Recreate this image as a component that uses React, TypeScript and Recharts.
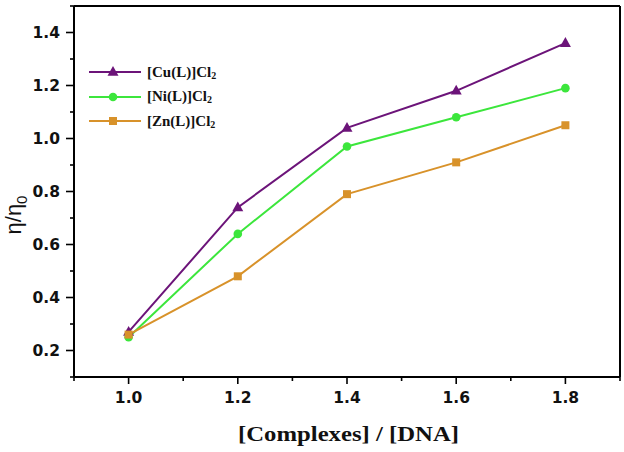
import React from "react"
import { LineChart, Line, XAxis, YAxis, ReferenceLine, Legend } from "recharts"

// ratio values on the x axis
const ratios = [1.0, 1.2, 1.4, 1.6, 1.8]

// relative viscosity for each complex
const cuValues = [0.27, 0.74, 1.04, 1.18, 1.36]
const niValues = [0.25, 0.64, 0.97, 1.08, 1.19]
const znValues = [0.26, 0.48, 0.79, 0.91, 1.05]

const xTicks = [0.9, 1.0, 1.1, 1.2, 1.3, 1.4, 1.5, 1.6, 1.7, 1.8, 1.9]
const yTicks = [0.1, 0.2, 0.3, 0.4, 0.5, 0.6, 0.7, 0.8, 0.9, 1.0, 1.1, 1.2, 1.3, 1.4, 1.5]

const seriesNames = ["[Cu(L)]Cl", "[Ni(L)]Cl", "[Zn(L)]Cl"]
const seriesKeys = ["cu", "ni", "zn"]
const seriesColors = ["#6c1479", "#3ce63c", "#d8922a"]
const seriesShapes = ["triangle", "circle", "square"]

const data = ratios.map((r, i) => ({
    ratio: r,
    cu: cuValues[i],
    ni: niValues[i],
    zn: znValues[i],
}))

const isMajor = (v: number) => Math.round(v * 10) % 2 === 0

const tickFont = { fontFamily: "'DejaVu Sans', sans-serif", fontWeight: 700, fontSize: 15.5 }
const serif = "'Liberation Serif', 'Times New Roman', serif"

function XTick({ x, y, payload }: any) {
    const major = isMajor(payload.value)
    return (
        <g>
            <line x1={x} x2={x} y1={y} y2={y + (major ? 7 : 4)} stroke="#000" strokeWidth={1.6} />
            {major && (
                <text x={x} y={y + 26} textAnchor="middle" fill="#111" {...tickFont}>
                    {payload.value.toFixed(1)}
                </text>
            )}
        </g>
    )
}

function YTick({ x, y, payload }: any) {
    const major = isMajor(payload.value)
    return (
        <g>
            <line x1={x} x2={x - (major ? 8 : 4)} y1={y} y2={y} stroke="#000" strokeWidth={1.6} />
            {major && (
                <text x={x - 14} y={y + 5.5} textAnchor="end" fill="#111" {...tickFont}>
                    {payload.value.toFixed(1)}
                </text>
            )}
        </g>
    )
}

function Marker({ shape, cx, cy, color }: any) {
    if (shape === "triangle") {
        return <polygon points={`${cx},${cy - 6} ${cx - 5.5},${cy + 3.8} ${cx + 5.5},${cy + 3.8}`} fill={color} />
    }
    if (shape === "square") {
        return <rect x={cx - 4} y={cy - 4} width={8} height={8} fill={color} />
    }
    return <circle cx={cx} cy={cy} r={4.3} fill={color} />
}

function LegendBox() {
    return (
        <div>
            {seriesNames.map((name, i) => (
                <div key={name} style={{ display: "flex", alignItems: "center", height: 24.5 }}>
                    <svg width={59} height={16}>
                        <line x1={1} x2={53} y1={8} y2={8} stroke={seriesColors[i]} strokeWidth={2} />
                        <Marker shape={seriesShapes[i]} cx={25} cy={8} color={seriesColors[i]} />
                    </svg>
                    <span style={{ fontFamily: serif, fontWeight: 700, fontSize: 15, color: "#111" }}>
                        {name}
                        <sub style={{ fontSize: 10, verticalAlign: "-2px" }}>2</sub>
                    </span>
                </div>
            ))}
        </div>
    )
}

function XTitle() {
    return (
        <text
            x={348.5}
            y={441}
            textAnchor="middle"
            fontFamily={serif}
            fontWeight={700}
            fontSize={22}
            textLength={221}
            lengthAdjust="spacingAndGlyphs"
            fill="#111"
        >
            [Complexes] / [DNA]
        </text>
    )
}

function YTitle() {
    return (
        <text
            transform="translate(21, 215) rotate(-90)"
            textAnchor="middle"
            fontFamily="'Liberation Sans', Arial, sans-serif"
            fontSize={22}
            fill="#111"
        >
            η/η<tspan fontSize={15} dy={6}>0</tspan>
        </text>
    )
}

export default function App() {
    return (
        <div style={{ position: "absolute", left: 0, top: 0, width: 624, height: 452, background: "#fff" }}>
            <LineChart width={624} height={452} data={data} margin={{ top: 6, right: 4, bottom: 0, left: 0 }}>
                <XAxis
                    dataKey="ratio"
                    type="number"
                    domain={[0.9, 1.9]}
                    ticks={xTicks}
                    interval={0}
                    height={75}
                    tickSize={0}
                    tickMargin={0}
                    tickLine={false}
                    tick={<XTick />}
                    axisLine={{ stroke: "#000", strokeWidth: 2 }}
                    label={{ content: <XTitle /> }}
                />
                <YAxis
                    type="number"
                    domain={[0.1, 1.5]}
                    ticks={yTicks}
                    interval={0}
                    width={74}
                    tickSize={0}
                    tickMargin={0}
                    tickLine={false}
                    tick={<YTick />}
                    axisLine={{ stroke: "#000", strokeWidth: 2 }}
                    label={{ content: <YTitle /> }}
                />
                <ReferenceLine y={1.5} stroke="#000" strokeWidth={2} />
                <ReferenceLine x={1.9} stroke="#000" strokeWidth={2} />
                <Legend
                    layout="vertical"
                    align="center"
                    verticalAlign="middle"
                    content={<LegendBox />}
                    wrapperStyle={{ left: 88, top: 60, width: 170, height: 80 }}
                />
                {seriesKeys.map((key, i) => (
                    <Line
                        key={key}
                        dataKey={key}
                        name={seriesNames[i]}
                        stroke={seriesColors[i]}
                        strokeWidth={2}
                        isAnimationActive={false}
                        dot={(p: any) => <Marker key={`${key}-${p.index}`} shape={seriesShapes[i]} cx={p.cx} cy={p.cy} color={seriesColors[i]} />}
                        activeDot={false}
                    />
                ))}
            </LineChart>
        </div>
    )
}
